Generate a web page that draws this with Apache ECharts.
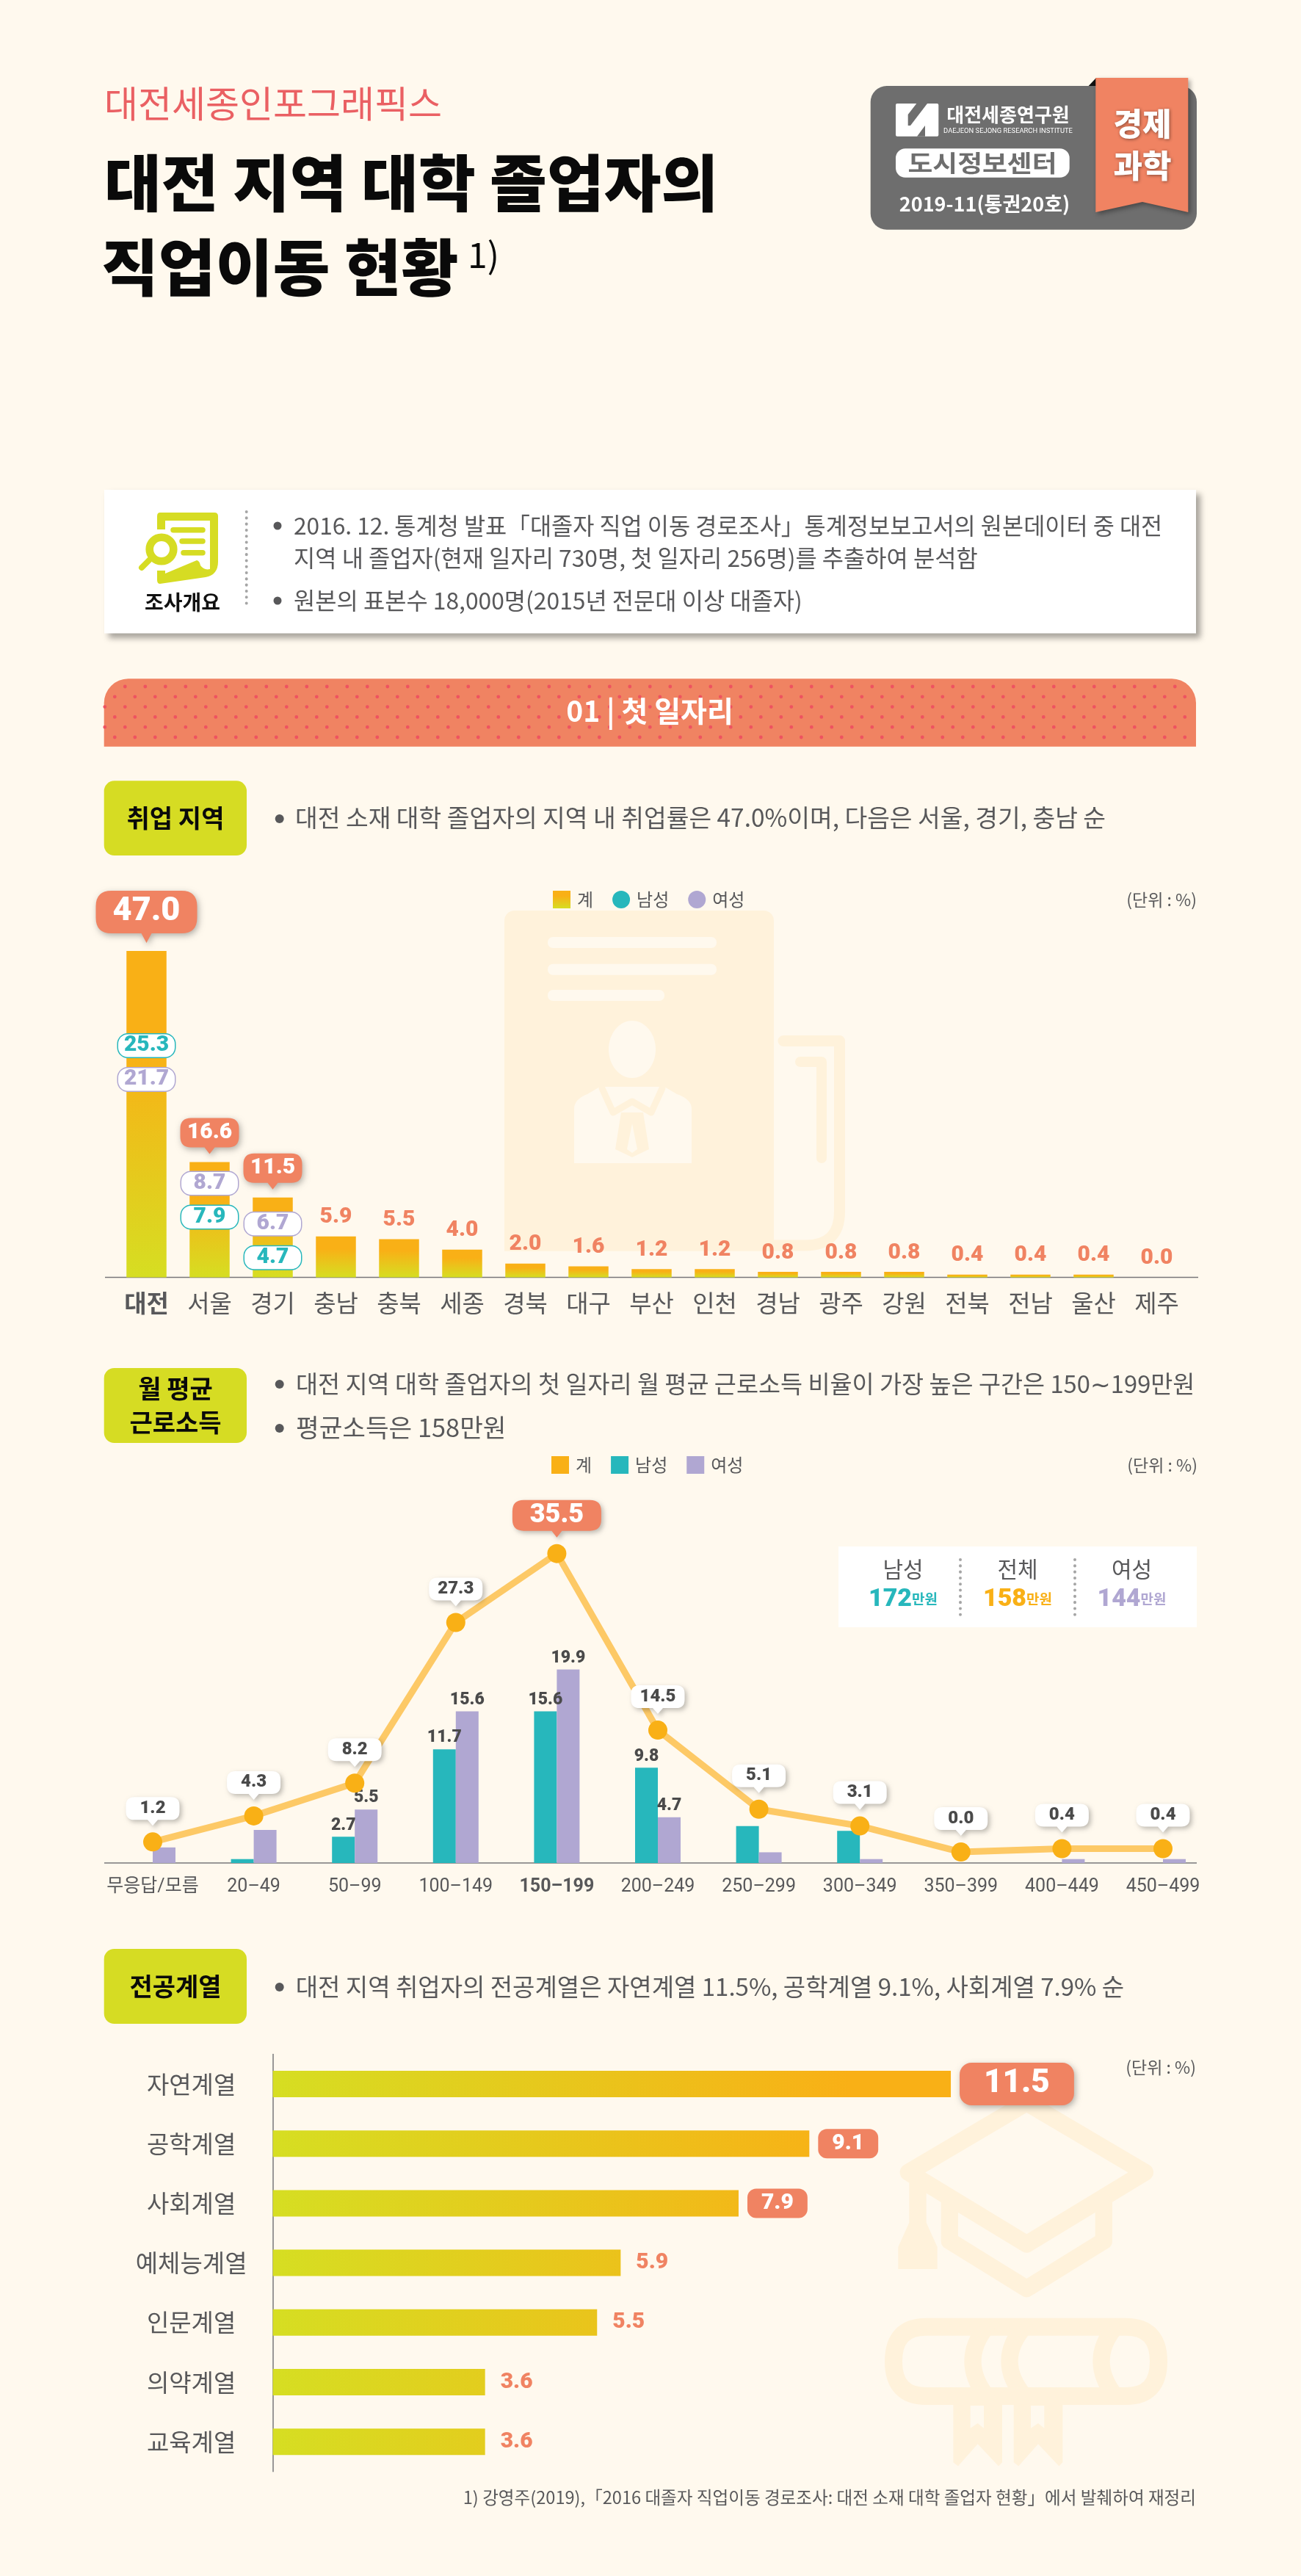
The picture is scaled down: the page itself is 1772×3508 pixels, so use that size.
<!DOCTYPE html>
<html>
<head>
<meta charset="utf-8">
<title>대전 지역 대학 졸업자의 직업이동 현황</title>
<script src="https://cdn.jsdelivr.net/npm/echarts@6/dist/echarts.min.js"></script>
<style>
html, body { margin: 0; padding: 0; background: #FFF9EE; }
#charts { width: 1772px; height: 3508px; }
</style>
</head>
<body>
<div id="charts"></div>
<script>
// 취업 지역
var regionNames = ['대전','서울','경기','충남','충북','세종','경북','대구','부산','인천','경남','광주','강원','전북','전남','울산','제주'];
var regionTotal = [47.0,16.6,11.5,5.9,5.5,4.0,2.0,1.6,1.2,1.2,0.8,0.8,0.8,0.4,0.4,0.4,0.0];
var regionMale = [25.3,7.9,4.7];
var regionFemale = [21.7,8.7,6.7];

// 월 평균 근로소득
var incomeNames = ['무응답/모름','20–49','50–99','100–149','150–199','200–249','250–299','300–349','350–399','400–449','450–499'];
var incomeTotal = [1.2,4.3,8.2,27.3,35.5,14.5,5.1,3.1,0.0,0.4,0.4];
var incomeMale = [0,0.4,2.7,11.7,15.6,9.8,3.8,3.3,0,0,0];
var incomeFemale = [1.6,3.4,5.5,15.6,19.9,4.7,1.1,0.4,0,0.4,0.4];
var incomeLabelled = ['50–99','100–149','150–199','200–249'];

// 전공계열
var majorNames = ['자연계열','공학계열','사회계열','예체능계열','인문계열','의약계열','교육계열'];
var majorValues = [11.5,9.1,7.9,5.9,5.5,3.6,3.6];

var BG = '#FFF9EE', SALMON = '#F08362', LIME = '#D6DC23', AMBER = '#F9B016', TEAL = '#27B7BC', PURPLE = '#B0A7D2';
var INK = '#58585A', MARK = '#FFF2DB', KR = '"Noto Sans CJK KR"', NUM = 'Roboto, "Noto Sans CJK KR"';

var barFill = { type: 'linear', x: 0, y: 0, x2: 0, y2: 1, colorStops: [{ offset: 0, color: AMBER }, { offset: 0.3, color: AMBER }, { offset: 1, color: '#D6DE22' }] };
var hBarFill = { type: 'linear', x: 371, y: 0, x2: 1295, y2: 0, global: true, colorStops: [{ offset: 0, color: '#D6DE22' }, { offset: 0.85, color: AMBER }, { offset: 1, color: AMBER }] };

// graphic 컴포넌트에 path 타입이 없어서 간단한 M/L/Q/Z/O 해석기를 등록
echarts.graphic.registerShape('sketch', echarts.graphic.extendShape({
    type: 'sketch',
    shape: { d: '' },
    buildPath: function (ctx, shape) {
        var parts = shape.d.match(/[MLQZO]|-?[\d.]+/g) || [];
        var i = 0;
        while (i < parts.length) {
            var c = parts[i++];
            if (c === 'M') { ctx.moveTo(+parts[i], +parts[i + 1]); i += 2; }
            else if (c === 'L') { ctx.lineTo(+parts[i], +parts[i + 1]); i += 2; }
            else if (c === 'Q') { ctx.quadraticCurveTo(+parts[i], +parts[i + 1], +parts[i + 2], +parts[i + 3]); i += 4; }
            else if (c === 'Z') { ctx.closePath(); }
            else if (c === 'O') {
                ctx.moveTo(+parts[i] + +parts[i + 2], +parts[i + 1]);
                ctx.arc(+parts[i], +parts[i + 1], +parts[i + 2], 0, Math.PI * 2);
                i += 3;
            }
        }
    }
}));

function bubble(w, h, tail) {
    var r = h * 0.3, b = h - tail, m = w / 2;
    return 'path://M' + r + ',0 L' + (w - r) + ',0 Q' + w + ',0 ' + w + ',' + r + ' L' + w + ',' + (b - r) + ' Q' + w + ',' + b + ' ' + (w - r) + ',' + b +
        ' L' + (m + 7) + ',' + b + ' L' + m + ',' + h + ' L' + (m - 7) + ',' + b + ' L' + r + ',' + b + ' Q0,' + b + ' 0,' + (b - r) + ' L0,' + r + ' Q0,0 ' + r + ',0 Z';
}

function text(x, y, str, size, fill, weight, align, extra) {
    var style = { text: str, fontFamily: KR, fontSize: size, fontWeight: weight || 'normal', fill: fill || INK, align: align || 'left', verticalAlign: 'middle' };
    for (var k in extra) { style[k] = extra[k]; }
    return { type: 'text', x: x, y: y, style: style };
}
function rect(x, y, w, h, r, fill, extra) {
    var style = { fill: fill };
    for (var k in extra) { style[k] = extra[k]; }
    return { type: 'rect', shape: { x: x, y: y, width: w, height: h, r: r }, style: style };
}
function pathAbs(d, fill, stroke, width) {
    return { type: 'sketch', shape: { d: d }, style: { fill: fill || 'none', stroke: stroke || 'none', lineWidth: width || 0, lineJoin: 'round', lineCap: 'round' } };
}
function dot(x, y, r, fill) { return { type: 'circle', shape: { cx: x, cy: y, r: r }, style: { fill: fill } }; }
function dotted(x, y1, y2) {
    return { type: 'line', shape: { x1: x, y1: y1, x2: x, y2: y2 }, style: { stroke: '#A5A5A5', lineWidth: 4, lineCap: 'round', lineDash: [0.1, 8.2] } };
}
function hline(x1, x2, y) {
    return { type: 'line', shape: { x1: x1, y1: y, x2: x2, y2: y }, style: { stroke: '#77777A', lineWidth: 1.5 } };
}

// 머리말, 조사개요, 소제목, 배경 그림
var art = [];

art.push(text(142, 141, '대전세종인포그래픽스', 50, '#EA6063'));
art.push(text(142, 249, '대전 지역 대학 졸업자의', 84.6, '#0A0A0A', 900));
art.push(text(138, 364, '직업이동 현황', 84.6, '#0A0A0A', 900));
art.push(text(637, 347, '1)', 48, '#0A0A0A'));

// 배지
art.push(pathAbs('M1482.7,117 L1493,106 L1493,117 Z', '#111'));
art.push(rect(1185.7, 117, 444.3, 195.7, 22, '#6E6E6E'));
art.push(pathAbs('M1492.3,106 L1618.3,106 L1618.3,289 L1556,275 L1492.3,289 Z', SALMON));
art[art.length - 1].style.shadowBlur = 6;
art[art.length - 1].style.shadowOffsetX = 3;
art[art.length - 1].style.shadowOffsetY = 3;
art[art.length - 1].style.shadowColor = 'rgba(0,0,0,0.35)';
art.push(rect(1220, 141, 58.3, 44.7, 2, '#FFF'));
art.push(pathAbs('M1248.3,141 L1263,141 L1240,171 L1236.7,171 L1236.7,156 Z', '#6E6E6E'));
art.push(pathAbs('M1249,185.7 L1260,185.7 L1260,171 Z', '#6E6E6E'));
art.push(text(1373, 156, '대전세종연구원', 26, '#FFF', 'bold', 'center'));
art.push(text(1373, 179, 'DAEJEON SEJONG RESEARCH INSTITUTE', 9.4, '#FFF', 'normal', 'center', { fontFamily: 'Roboto' }));
art.push(rect(1220, 202.3, 236.7, 39.4, 13, '#FFF'));
var centre = text(1338, 222, '도시정보센터', 32, '#6E6E6E', 'bold', 'center');
centre.scaleX = 1.15;
art.push(centre);
art.push(text(1341, 278, '2019-11(통권20호)', 27, '#FFF', 'bold', 'center'));
art.push(text(1556, 169, '경제', 43, '#FFF', 900, 'center', { textShadowBlur: 4, textShadowColor: 'rgba(0,0,0,0.45)', textShadowOffsetX: 1, textShadowOffsetY: 1 }));
art.push(text(1556, 226, '과학', 43, '#FFF', 900, 'center', { textShadowBlur: 4, textShadowColor: 'rgba(0,0,0,0.45)', textShadowOffsetX: 1, textShadowOffsetY: 1 }));

// 조사개요
art.push(rect(142, 667, 1487, 195.5, 0, '#FFF', { shadowBlur: 8, shadowOffsetX: 6, shadowOffsetY: 6, shadowColor: 'rgba(0,0,0,0.35)' }));
art.push(pathAbs('M218,698 L292,698 Q297,698 297,703 L297,765 Q297,783 280,786 L218,795 Q214,795 214,790 L214,703 Q214,698 218,698 Z', LIME));
art.push(pathAbs('M225,709 L286,709 L286,775 Q278,777 273,770 Q272,764 268,763 L225,781 Z', '#FFF'));
art.push(rect(212, 721, 14, 56, 0, '#FFF'));
art.push({ type: 'circle', shape: { cx: 220, cy: 748, r: 16.3 }, style: { fill: '#FFF', stroke: LIME, lineWidth: 10.6 } });
art.push(pathAbs('M203,763 L193,773', 'none', LIME, 8));
art.push(pathAbs('M236,721.7 L276,721.7', 'none', LIME, 7.5));
art.push(pathAbs('M248,737 L276,737', 'none', LIME, 7.5));
art.push(pathAbs('M250,752.7 L276,752.7', 'none', LIME, 7.5));
art.push(text(248.6, 820, '조사개요', 28, '#111', 'bold', 'center'));
art.push(dotted(335.7, 697, 829));
art.push(dot(378, 716, 5.5, INK));
art.push(text(400, 716, '2016. 12. 통계청 발표「대졸자 직업 이동 경로조사」통계정보보고서의 원본데이터 중 대전', 31.7));
art.push(text(400, 760, '지역 내 졸업자(현재 일자리 730명, 첫 일자리 256명)를 추출하여 분석함', 31.8));
art.push(dot(378, 818, 5.5, INK));
art.push(text(400, 818, '원본의 표본수 18,000명(2015년 전문대 이상 대졸자)', 31.8));

// 01 띠
art.push(rect(141.7, 924.3, 1487.3, 92.4, [33, 33, 0, 0], SALMON));
var dots = '';
for (var row = 0; row < 6; row++) {
    for (var col = 0; col < 55; col++) {
        var dx = (row % 2 ? 156.3 : 142.8) + col * 27.5;
        var dy = 935 + row * 13.8;
        if (dx > 1627 || (row === 0 && col === 0)) { continue; }
        dots += 'O ' + dx + ',' + dy + ',2.4 ';
    }
}
art.push(pathAbs(dots, '#EE5360'));
art.push(text(885, 968, '01 | 첫 일자리', 39, '#FFF', 'bold', 'center'));

// 소제목
function tag(y, h, lines) {
    art.push(rect(141.7, y, 194.3, h, 14, LIME));
    var gap = 46;
    var first = y + h / 2 - (lines.length - 1) * gap / 2;
    lines.forEach(function (s, i) {
        art.push(text(239, first + i * gap, s, 34, '#0A0A0A', 'bold', 'center'));
    });
}
tag(1063.3, 101.7, ['취업 지역']);
art.push(dot(380.7, 1115, 6, INK));
art.push(text(402, 1113, '대전 소재 대학 졸업자의 지역 내 취업률은 47.0%이며, 다음은 서울, 경기, 충남 순', 33.4));

tag(1863, 102, ['월 평균', '근로소득']);
art.push(dot(380.7, 1885, 6, INK));
art.push(text(403, 1885, '대전 지역 대학 졸업자의 첫 일자리 월 평균 근로소득 비율이 가장 높은 구간은 150∼199만원', 32.7));
art.push(dot(380.7, 1945, 6, INK));
art.push(text(403, 1944, '평균소득은 158만원', 34.4));

tag(2654, 102, ['전공계열']);
art.push(dot(380.7, 2706, 6, INK));
art.push(text(402.7, 2705, '대전 지역 취업자의 전공계열은 자연계열 11.5%, 공학계열 9.1%, 사회계열 7.9% 순', 33));

// 단위
art.push(text(1630, 1225, '(단위 : %)', 23, INK, 'normal', 'right'));
art.push(text(1631, 1995, '(단위 : %)', 23, INK, 'normal', 'right'));
art.push(text(1629, 2815, '(단위 : %)', 23, INK, 'normal', 'right'));

// 각주
art.push(text(1629, 3401, '1) 강영주(2019),「2016 대졸자 직업이동 경로조사: 대전 소재 대학 졸업자 현황」에서 발췌하여 재정리', 23.6, INK, 'normal', 'right'));

// 배경: 증명서
art.push(rect(687, 1240, 367, 463.7, [14, 14, 0, 0], MARK));
art.push(rect(746, 1276, 230, 15, 7, BG));
art.push(rect(746, 1312.7, 230, 15, 7, BG));
art.push(rect(746, 1348, 159, 15, 7, BG));
art.push({ type: 'ellipse', shape: { cx: 861, cy: 1429, rx: 32, ry: 39 }, style: { fill: BG } });
art.push(pathAbs('M782,1510 Q782,1497 800,1490 L817,1480 L905,1480 L922,1490 Q942,1497 942,1510 L942,1584 L782,1584 Z', BG));
art.push(pathAbs('M820,1482 L835,1515 L861,1500 L887,1515 L902,1482', 'none', MARK, 9));
art.push(pathAbs('M846,1515 L876,1515 L884,1565 L861,1576 L838,1565 Z', MARK));
art.push(pathAbs('M861,1530 L868,1565 L861,1570 L854,1565 Z', BG));
art.push(pathAbs('M1067,1417.5 L1143.5,1417.5 L1143.5,1650 Q1143.5,1696 1097,1696 L1054,1696', 'none', MARK, 15));
art.push(pathAbs('M1090,1446 L1119,1446 L1119,1577', 'none', MARK, 14));

// 배경: 학사모, 졸업장 (확대 좌표 1/3 축소)
art.push({
    type: 'group', x: 1190, y: 2860, scaleX: 1 / 3, scaleY: 1 / 3,
    children: [
        pathAbs('M142,295 L625,10 L1108,295 L625,588 Z', 'none', MARK, 70),
        pathAbs('M310,420 L310,575 L625,770 L940,575 L940,420', 'none', MARK, 70),
        pathAbs('M180,320 L180,500', 'none', MARK, 70),
        pathAbs('M145,500 L215,500 L260,600 L260,690 L100,690 L100,600 Z', MARK),
        pathAbs('M215,926 L1030,926 Q1164,926 1164,1067 Q1164,1209 1030,1209 L215,1209 Q81,1209 81,1067 Q81,926 215,926 Z', 'none', MARK, 72),
        pathAbs('M460,926 Q350,1065 460,1209', 'none', MARK, 70),
        pathAbs('M615,926 Q495,1065 615,1209', 'none', MARK, 70),
        pathAbs('M987,926 Q873,1065 987,1209', 'none', MARK, 70),
        pathAbs('M325,1245 L525,1245 L525,1480 L510,1495 L425,1405 L345,1495 L325,1480 Z', MARK),
        pathAbs('M395,1248 L450,1248 L450,1340 L425,1320 L395,1340 Z', BG),
        pathAbs('M572,1245 L772,1245 L772,1480 L757,1495 L672,1405 L592,1495 L572,1480 Z', MARK),
        pathAbs('M642,1248 L697,1248 L697,1340 L672,1320 L642,1340 Z', BG)
    ]
});

// 축 기준선
art.push(hline(143, 1632, 1739.6));
art.push(hline(142, 1630, 2537));

// 소득 카드
art.push(rect(1142, 2106, 488, 110, 0, '#FFF'));
art.push(dotted(1308, 2124, 2199));
art.push(dotted(1464, 2124, 2199));
var cardRich = function (color) {
    return { num: { fontFamily: NUM, fontSize: 34, fontWeight: 900, fill: color }, unit: { fontFamily: KR, fontSize: 19, fontWeight: 'bold', fill: color } };
};
[['남성', '172', TEAL, 1230], ['전체', '158', AMBER, 1386], ['여성', '144', PURPLE, 1541.5]].forEach(function (c) {
    art.push(text(c[3], 2137, c[0], 30, INK, 'normal', 'center'));
    art.push(text(c[3], 2178, '{num|' + c[1] + '}{unit|만원}', 34, c[2], 'bold', 'center', { rich: cardRich(c[2]) }));
});

// 그림을 그리는 옵션
function oneDecimal(p) { return (+p.value).toFixed(1); }

function pillLabel(color, values) {
    return {
        show: true, position: 'inside', width: 77, height: 31, lineHeight: 31, align: 'center', verticalAlign: 'middle',
        backgroundColor: '#FFF', borderColor: color, borderWidth: 1.5, borderRadius: 13,
        fontFamily: NUM, fontSize: 30, fontWeight: 900, color: color,
        formatter: function (p) { return values[p.dataIndex].toFixed(1); }
    };
}
var pillTop = [129, 29, 36];
function pillData(values, others) {
    return values.map(function (v, i) {
        var gap = pillTop[i] + (v > others[i] ? 0 : 46);
        return { value: regionTotal[i], label: { offset: [0, gap] } };
    });
}

var option = {
    backgroundColor: BG,
    animation: false,
    textStyle: { fontFamily: KR },
    graphic: { elements: art },
    legend: [
        {
            left: 753, top: 1213, padding: 0, itemWidth: 24, itemHeight: 24, itemGap: 26, selectedMode: false,
            textStyle: { fontSize: 24, color: INK, padding: [0, 0, 0, 4] },
            data: [
                { name: '계', icon: 'rect', itemStyle: { color: barFill } },
                { name: '남성', icon: 'circle', itemStyle: { color: TEAL } },
                { name: '여성', icon: 'circle', itemStyle: { color: PURPLE } }
            ]
        },
        {
            left: 751, top: 1983, padding: 0, itemWidth: 24, itemHeight: 24, itemGap: 26, selectedMode: false,
            textStyle: { fontSize: 24, color: INK, padding: [0, 0, 0, 4] },
            data: [
                { name: '계', icon: 'rect', itemStyle: { color: AMBER } },
                { name: '남성', icon: 'rect', itemStyle: { color: TEAL } },
                { name: '여성', icon: 'rect', itemStyle: { color: PURPLE } }
            ]
        }
    ],
    grid: [
        { left: 156.5, top: 1266.6, width: 1462, height: 473 },
        { left: 139.2, top: 2087, width: 1513.6, height: 450 },
        { left: 371.6, top: 2797.4, width: 1204.5, height: 568.4 }
    ],
    xAxis: [
        {
            gridIndex: 0, type: 'category', data: regionNames.map(function (n, i) {
                return i === 0 ? { value: n, textStyle: { fontWeight: 'bold' } } : n;
            }),
            axisLine: { show: false }, axisTick: { show: false },
            axisLabel: { interval: 0, fontSize: 33, color: INK, margin: 18 }
        },
        {
            gridIndex: 1, type: 'category', data: incomeNames.map(function (n) {
                return n === '150–199' ? { value: n, textStyle: { fontWeight: 'bold' } } : n;
            }),
            axisLine: { show: false }, axisTick: { show: false },
            axisLabel: { interval: 0, fontSize: 25, color: INK, margin: 20, fontFamily: NUM }
        },
        { gridIndex: 2, type: 'value', min: 0, max: 15, show: false }
    ],
    yAxis: [
        { gridIndex: 0, type: 'value', min: 0, max: 50, show: false },
        { gridIndex: 1, type: 'value', min: 0, max: 34, show: false },
        { gridIndex: 1, type: 'value', min: -1.3, max: 38, show: false },
        {
            gridIndex: 2, type: 'category', inverse: true, data: majorNames,
            axisLine: { show: true, lineStyle: { color: '#77777A', width: 1.5 } }, axisTick: { show: false },
            axisLabel: { fontSize: 33, color: INK, align: 'center', margin: 111 }
        }
    ],
    series: [
        {
            name: '계', type: 'bar', xAxisIndex: 0, yAxisIndex: 0, barWidth: 54.5, z: 2,
            itemStyle: { color: barFill },
            label: { show: true, position: 'top', distance: 11, fontFamily: NUM, fontSize: 30, fontWeight: 900, color: SALMON, formatter: oneDecimal },
            data: regionTotal.map(function (v, i) {
                return i < 3 ? { value: v, label: { show: false } } : v;
            })
        },
        {
            name: '남성', type: 'scatter', xAxisIndex: 0, yAxisIndex: 0, symbolSize: 1, z: 4,
            itemStyle: { color: 'rgba(0,0,0,0)', opacity: 1 },
            label: pillLabel(TEAL, regionMale), data: pillData(regionMale, regionFemale)
        },
        {
            name: '여성', type: 'scatter', xAxisIndex: 0, yAxisIndex: 0, symbolSize: 1, z: 4,
            itemStyle: { color: 'rgba(0,0,0,0)', opacity: 1 },
            label: pillLabel(PURPLE, regionFemale), data: pillData(regionFemale, regionMale)
        },
        {
            name: '지역 말풍선', type: 'scatter', xAxisIndex: 0, yAxisIndex: 0, z: 5, clip: false,
            itemStyle: { color: SALMON, opacity: 1, shadowBlur: 8, shadowOffsetX: 2, shadowOffsetY: 3, shadowColor: 'rgba(0,0,0,0.3)' },
            label: { show: true, position: 'inside', fontFamily: NUM, fontWeight: 900, color: '#FFF' },
            data: regionTotal.slice(0, 3).map(function (v, i) {
                var big = i === 0, w = big ? 138 : 80, h = big ? 71 : 49, tail = big ? 13 : 9;
                return {
                    value: v, symbol: bubble(w, h, tail), symbolSize: [w, h], symbolOffset: [0, -(11 + h / 2)],
                    label: { fontSize: big ? 45 : 30, offset: [0, -tail / 2], formatter: v.toFixed(1) }
                };
            })
        },
        {
            name: '남성', type: 'bar', xAxisIndex: 1, yAxisIndex: 1, barWidth: 31, barGap: 0,
            itemStyle: { color: TEAL },
            label: { position: 'top', distance: 4, fontFamily: NUM, fontSize: 23, fontWeight: 900, color: '#4A4A4A' },
            data: incomeMale.map(function (v, i) {
                return { value: v, label: { show: incomeLabelled.indexOf(incomeNames[i]) >= 0 } };
            })
        },
        {
            name: '여성', type: 'bar', xAxisIndex: 1, yAxisIndex: 1, barWidth: 31, barGap: 0,
            itemStyle: { color: PURPLE },
            label: { position: 'top', distance: 4, fontFamily: NUM, fontSize: 23, fontWeight: 900, color: '#4A4A4A' },
            data: incomeFemale.map(function (v, i) {
                return { value: v, label: { show: incomeLabelled.indexOf(incomeNames[i]) >= 0 } };
            })
        },
        {
            name: '계', type: 'line', xAxisIndex: 1, yAxisIndex: 2, z: 3, clip: false,
            symbol: 'circle', symbolSize: 26,
            lineStyle: { color: '#FDC966', width: 9 }, itemStyle: { color: AMBER },
            data: incomeTotal
        },
        {
            name: '소득 말풍선', type: 'scatter', xAxisIndex: 1, yAxisIndex: 2, z: 5, clip: false,
            label: { show: true, position: 'inside', fontFamily: NUM, fontWeight: 900 },
            data: incomeTotal.map(function (v) {
                var top = v === Math.max.apply(null, incomeTotal), w = top ? 121 : 73, h = top ? 51 : 39, tail = top ? 9 : 8;
                return {
                    value: v, symbol: bubble(w, h, tail), symbolSize: [w, h], symbolOffset: [0, -(22 + h / 2)],
                    itemStyle: { color: top ? SALMON : '#FFF', opacity: 1, shadowBlur: 6, shadowOffsetX: 3, shadowOffsetY: 3, shadowColor: 'rgba(0,0,0,0.25)' },
                    label: { fontSize: top ? 36 : 24, color: top ? '#FFF' : '#4A4A4A', offset: [0, -tail / 2], formatter: v.toFixed(1) }
                };
            })
        },
        {
            name: '전공계열', type: 'bar', xAxisIndex: 2, yAxisIndex: 3, barWidth: 36,
            itemStyle: { color: hBarFill },
            data: majorValues.map(function (v, i) {
                var style = { show: true, position: 'right', fontFamily: NUM, fontWeight: 900, formatter: v.toFixed(1), distance: 21, fontSize: 30, color: SALMON };
                if (i === 0) {
                    style.distance = 12;
                    style.fontSize = 44;
                    style.color = '#FFF';
                    style.backgroundColor = SALMON;
                    style.borderRadius = 16;
                    style.padding = [7, 33];
                    style.shadowBlur = 8;
                    style.shadowOffsetX = 2;
                    style.shadowOffsetY = 3;
                    style.shadowColor = 'rgba(0,0,0,0.3)';
                } else if (i < 3) {
                    style.distance = 12;
                    style.color = '#FFF';
                    style.backgroundColor = SALMON;
                    style.borderRadius = 12;
                    style.padding = [5, 19];
                }
                return { value: v, label: style };
            })
        }
    ]
};

var myChart = echarts.init(document.getElementById('charts'));
myChart.setOption(option);
</script>
</body>
</html>
